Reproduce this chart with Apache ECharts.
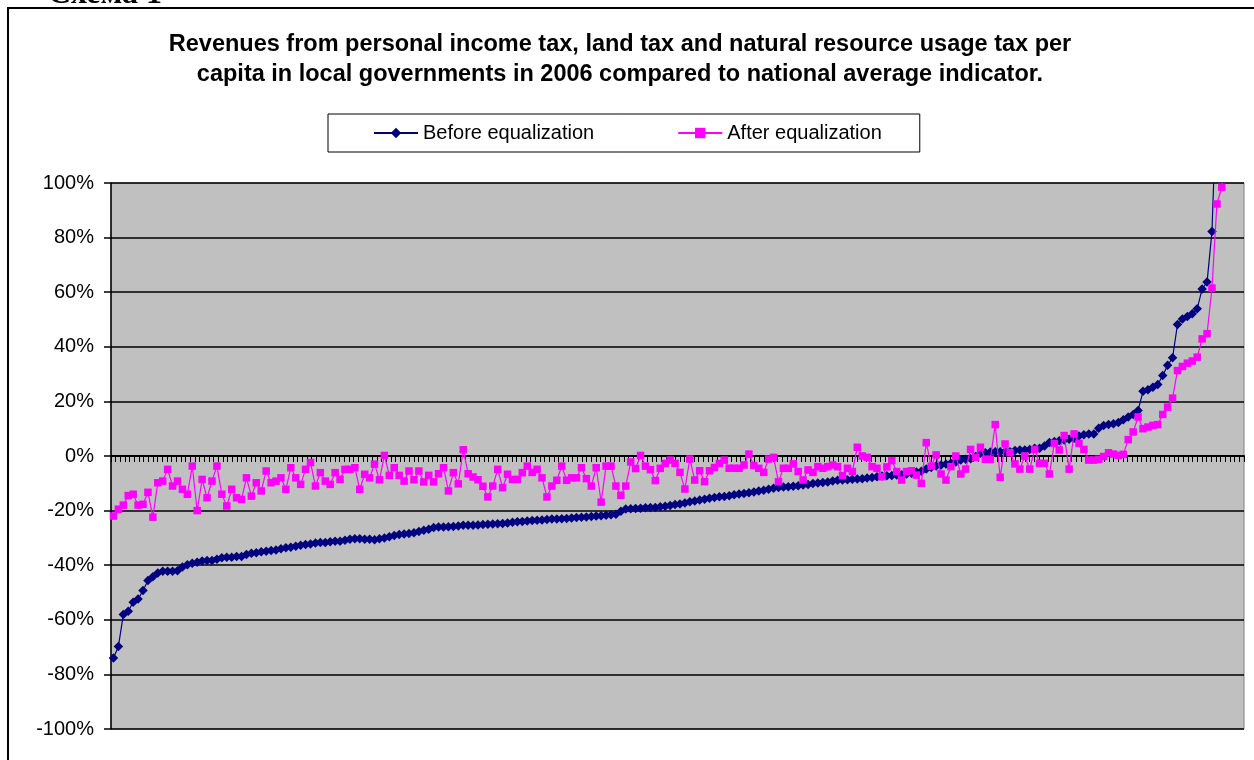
<!DOCTYPE html>
<html>
<head>
<meta charset="utf-8">
<script src="https://cdn.jsdelivr.net/npm/echarts@6/dist/echarts.min.js"></script>
<style>
html,body{margin:0;padding:0;background:#fff;}
#c{width:1254px;height:760px;}
</style>
</head>
<body>
<div id="c"></div>
<script>
// ---- data ----
const seriesNames = ['Before equalization', 'After equalization'];
const titleLines = [
  'Revenues from personal income tax, land tax and natural resource usage tax per',
  'capita in local governments in 2006 compared to national average indicator.'
];
const captionText = 'Схема 1';
const yMin = -100, yMax = 100, yStep = 20;
const yTickFormat = '{value}%';
const tickSlotCount = 243;

const beforeEq = [
  -74, -69.8, -58.1, -56.9, -53.6, -52.4, -49.3, -45.6, -44.2, -42.9,
  -42.2, -42.2, -42.2, -42, -40.7, -39.8, -39.3, -38.9, -38.5, -38.3,
  -38.3, -37.8, -37.3, -37.1, -37.1, -36.8, -36.8, -36.1, -35.6, -35.4,
  -35.1, -34.9, -34.6, -34.4, -34, -33.6, -33.4, -33.1, -32.7, -32.4,
  -32.2, -31.9, -31.7, -31.7, -31.4, -31.2, -31.2, -30.9, -30.5, -30.3,
  -30.3, -30.5, -30.5, -30.7,
  -30.3, -30, -29.6, -29.1, -28.8, -28.6, -28.4, -28.1, -27.7, -27.2,
  -26.8, -26.2, -26, -26, -25.9, -25.8, -25.6, -25.4, -25.4, -25.4,
  -25.3, -25.1, -25, -24.9, -24.8, -24.7, -24.5, -24.3, -24.1, -24,
  -23.8, -23.6, -23.5, -23.4, -23.3, -23.1, -23.1, -23, -22.9, -22.7,
  -22.5, -22.4, -22.3, -22.2, -22, -21.9, -21.7, -21.5, -21.3, -20.2,
  -19.4, -19.3, -19.2, -19.1, -19, -18.9,
  -18.9, -18.6, -18.4, -18.1, -17.8, -17.6, -17.2, -16.8, -16.5, -16.1,
  -15.8, -15.5, -15.2, -14.9, -14.8, -14.6, -14.2, -13.9, -13.7, -13.5,
  -13.2, -12.8, -12.5, -12.2, -11.8, -11.5, -11.4, -11.3, -11.1, -10.9,
  -10.6, -10.4, -10.1, -9.9, -9.7, -9.5, -9.2, -8.9, -8.8, -8.7,
  -8.5, -8.4, -8.3, -8.1, -7.9, -7.6, -7.3, -7.2, -7.1, -7,
  -6.9, -6.6, -6.3, -5.9, -5.6,
  -4.8, -4.2, -3.7, -3.3, -2.9, -2.7, -2.2, -1.5, -1.2, -1,
  -0.2, 1, 1.2, 1.5, 1.6, 1.6, 1.6, 1.6, 2, 2.2,
  2.2, 2.4, 2.8, 2.8, 3.7, 4.9, 5.3, 5.6, 5.9, 6.1,
  6.5, 7.3, 7.8, 8.1, 8.1, 10.2, 11.2, 11.5, 11.8,
  12.3, 13.3, 14.3, 15.2, 16.7, 23.7, 24.3, 25.2, 26.2, 29.5,
  33.2, 36, 48.2, 50.2, 51.1, 52.1, 53.9, 61.2, 63.7, 82.2,
  135, 165, 190, 220, 260, 320
];

const afterEq = [
  -22, -19.5, -18, -14.5, -14, -18, -17.7, -13.3, -22.4, -9.8,
  -9.2, -4.9, -11, -9.2, -12.2, -14, -3.7, -20, -8.6, -15.3,
  -9.2, -3.7, -14, -18.3, -12.2, -15.3, -15.9, -8, -14.7, -9.8,
  -12.8, -5.5, -9.8, -9.2, -8, -12.2, -4.3, -8, -10.4, -4.9,
  -2.4, -11, -6.1, -9.2, -10.4, -6.1, -8.6, -4.9, -4.9, -4.3,
  -12.2, -6.7, -8, -3,
  -8.7, 0.2, -7.1, -4.3, -7.1, -9.2, -5.5, -8.7, -5.5, -9.5,
  -7.1, -9.5, -6.5, -4.3, -12.8, -6.1, -10.2, 2.3, -6.5, -7.7,
  -8.7, -11.1, -15, -11, -4.9, -11.6, -6.7, -8.6, -8.6, -6.1,
  -3.7, -6, -4.9, -8, -15, -11, -8.9, -3.7, -8.9, -8,
  -8, -4.3, -8.3, -11, -4.3, -16.9, -3.7, -3.7, -11, -14.4,
  -11, -2.2, -4.6, 0.2, -3.7,
  -5,
  -9, -4.5, -2.7, -1.5, -2.7, -6, -12.1, -1.1, -8.8, -5.4,
  -9.4, -5.4, -4.2, -2.7, -1.5, -4.5, -4.5, -4.5, -3.3, 0.7,
  -3.5, -4.5, -6, -1.1, -0.5, -9.4, -4.5, -4.5, -2.9, -5.7,
  -8.8, -5.1, -6, -3.9, -4.5, -3.9, -3.3, -3.9, -7.2, -4.5,
  -5.7, 3.2, 0, -0.5, -3.9, -4.5, -7.6, -4, -1.7, -5.7,
  -8.8, -5.7, -5.4, -7, -10,
  4.9, -3.7, 0.4, -6.6, -8.8, -3.9, 0, -6.6, -4.8, 2.4,
  -0.5, 3.2, -1.2, -1.2, 11.5, -7.8, 4.4, 1.2, -2.9, -4.8,
  0, -4.8, 2.4, -2.7, -2.7, -6.6, 4.6, 2.2, 7.5, -4.8,
  8.1, 4.6, 2.4, -1.5, -1.5, -1.2, -0.2, 1.2, 0.7,
  0.2, 0.6, 6, 8.8, 14.3, 10, 10.6, 11.2, 11.5, 15.2,
  17.9, 21.2, 31.3, 32.8, 34, 34.8, 36.2, 42.9, 44.8, 61.5,
  92.3, 98.4, 125, 150, 180, 230
];

const categories = beforeEq.map((_, i) => String(i + 1));
const tickSlots = Array.from({length: tickSlotCount}, (_, i) => String(i + 1));

// ---- chart ----
const FONT = '"Liberation Sans", Arial, sans-serif';
const chart = echarts.init(document.getElementById('c'), null, {renderer: 'canvas'});
chart.setOption({
  animation: false,
  backgroundColor: '#ffffff',
  title: {
    text: titleLines.join('\n'),
    left: 620,
    top: 30,
    textAlign: 'center',
    padding: 0,
    textStyle: {fontFamily: FONT, fontWeight: 'bold', fontSize: 23.5, lineHeight: 29.5, color: '#000'}
  },
  legend: {
    data: seriesNames,
    left: 328,
    top: 114,
    orient: 'horizontal',
    padding: [9, 38, 9, 45],
    itemGap: 83,
    itemWidth: 44,
    itemHeight: 13,
    borderColor: '#000',
    borderWidth: 1,
    backgroundColor: '#fff',
    selectedMode: false,
    textStyle: {fontFamily: FONT, fontSize: 20, color: '#000', lineHeight: 20}
  },
  grid: {
    left: 111, right: 10, top: 183, bottom: 31,
    show: true, backgroundColor: '#C0C0C0', borderColor: '#808080', borderWidth: 1,
    containLabel: false
  },
  xAxis: [
    {type: 'category', data: categories, boundaryGap: true, position: 'top', show: false,
     axisLine: {onZero: false}},
    {
      type: 'category', data: tickSlots, boundaryGap: true, position: 'bottom',
      axisLine: {show: true, onZero: true, onZeroAxisIndex: 0, lineStyle: {color: '#000', width: 2}},
      axisTick: {show: true, interval: 0, length: 6, lineStyle: {color: '#000', width: 1}},
      axisLabel: {show: false},
      splitLine: {show: false}
    }
  ],
  yAxis: {
    type: 'value', min: yMin, max: yMax, interval: yStep,
    axisLabel: {formatter: yTickFormat, fontFamily: FONT, fontSize: 20, color: '#000', margin: 17},
    axisLine: {show: true, lineStyle: {color: '#000', width: 1.5}},
    axisTick: {show: true, length: 7, lineStyle: {color: '#000', width: 1.5}},
    splitLine: {show: true, lineStyle: {color: '#000', width: 1.5}}
  },
  series: [
    {
      name: seriesNames[0], type: 'line', xAxisIndex: 0, yAxisIndex: 0,
      data: beforeEq, symbol: 'diamond', symbolSize: 9.5, showAllSymbol: true, clip: true,
      lineStyle: {color: '#000080', width: 1.2}, itemStyle: {color: '#000080'}, z: 3
    },
    {
      name: seriesNames[1], type: 'line', xAxisIndex: 0, yAxisIndex: 0,
      data: afterEq, symbol: 'rect', symbolSize: 7.5, showAllSymbol: true, clip: true,
      lineStyle: {color: '#FF00FF', width: 1.2}, itemStyle: {color: '#FF00FF'}, z: 4
    }
  ],
  graphic: [
    {
      type: 'rect', z: 100, silent: true,
      shape: {x: 8, y: 8, width: 1270, height: 780},
      style: {fill: 'none', stroke: '#000', lineWidth: 2}
    },
    {
      type: 'text', z: 100, silent: true, x: 48, y: 11,
      style: {
        text: captionText, font: 'bold 32px "Liberation Serif", "Times New Roman", serif',
        fill: '#000', textAlign: 'left', textVerticalAlign: 'bottom', align: 'left', verticalAlign: 'bottom'
      }
    }
  ]
});
</script>
</body>
</html>
